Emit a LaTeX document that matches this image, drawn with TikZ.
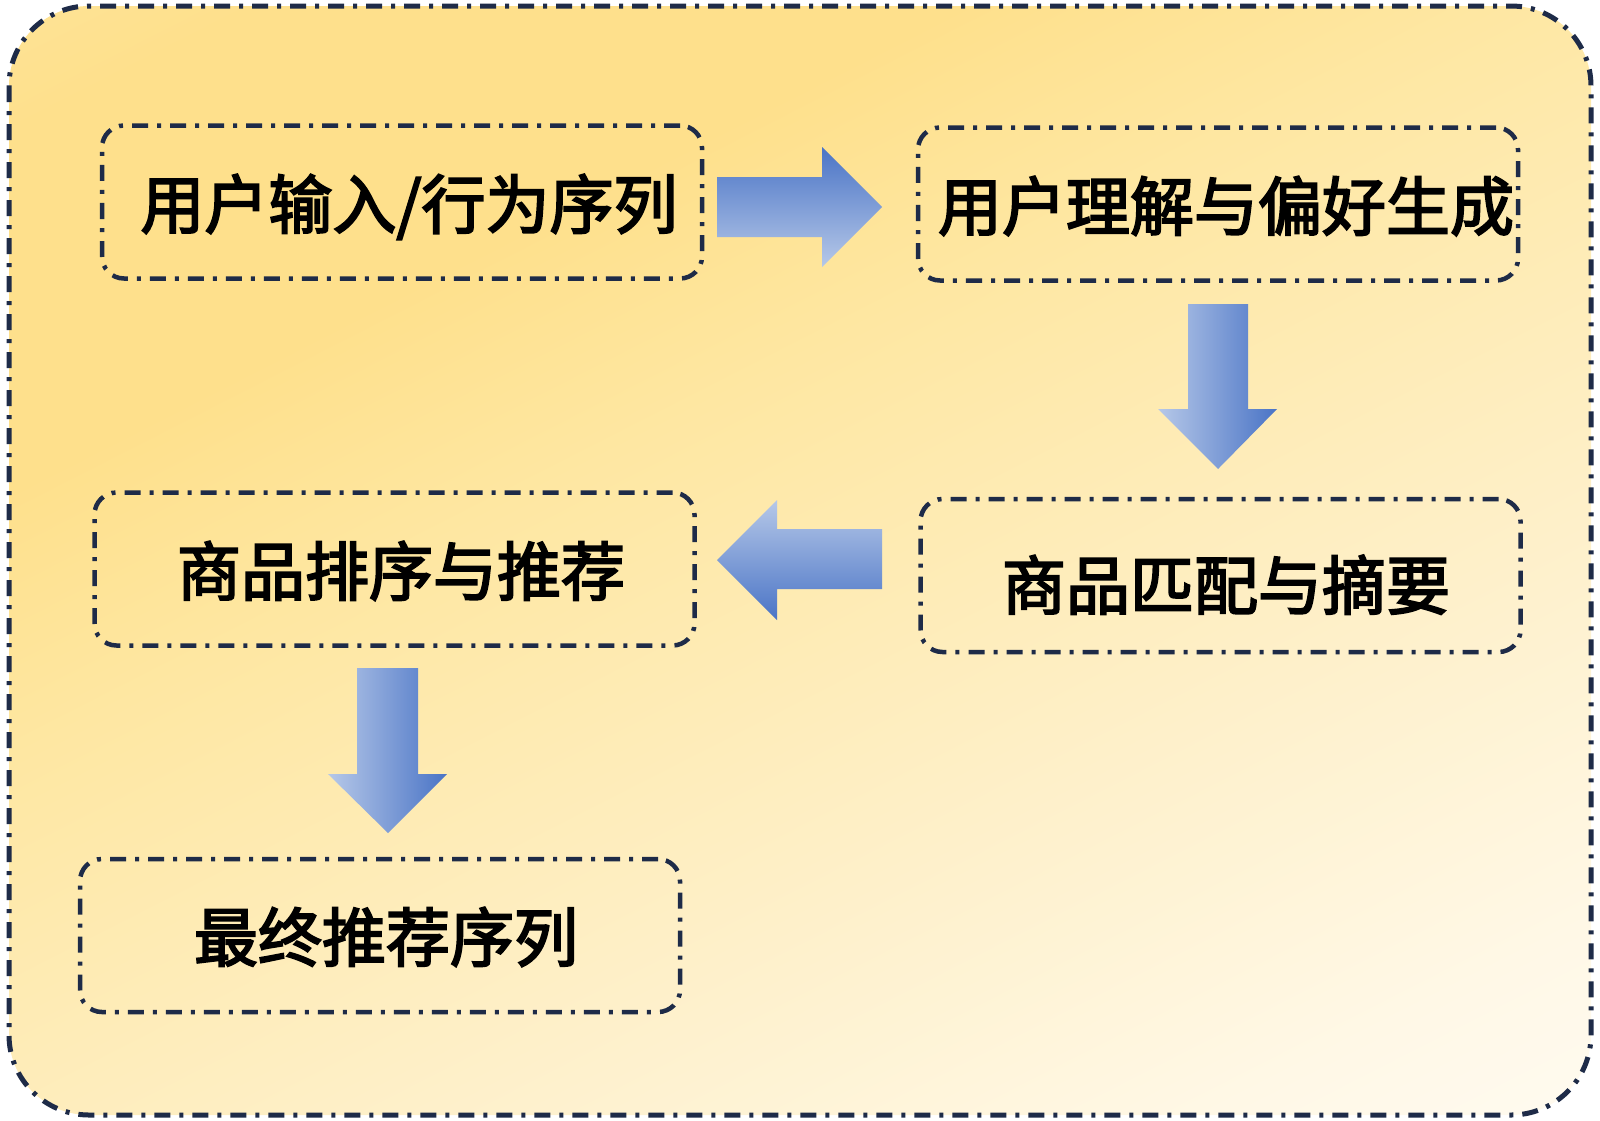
\documentclass[tikz,border=0pt]{standalone}
\usepackage{fontspec}
\setmainfont{Noto Sans CJK SC}
\newfontfamily\boxfont{Noto Sans CJK SC}[FakeBold=3]
\usetikzlibrary{calc}
\definecolor{navy}{HTML}{1E2B48}
\definecolor{arrdark}{HTML}{4A74C6}
\definecolor{arrlight}{HTML}{B6C8E8}
\definecolor{bgA}{HTML}{FFFAEE}
\definecolor{bgB}{HTML}{FFF8E6}
\definecolor{bgG}{HTML}{FEF0CA}
\definecolor{bgC}{HTML}{FEE7A2}
\definecolor{bgD}{HTML}{FEE08C}
\definecolor{bgE}{HTML}{FDE7A6}
\definecolor{bgF}{HTML}{FDE9AC}
\pgfdeclareverticalshading{bgsh}{100bp}{color(0bp)=(bgA); color(29.5bp)=(bgA); color(33bp)=(bgB); color(42bp)=(bgG); color(54.5bp)=(bgC); color(60.5bp)=(bgD); color(68.5bp)=(bgD); color(76bp)=(bgE); color(79.5bp)=(bgF); color(100bp)=(bgF)}
\tikzset{
  dashdot/.style={dash pattern=on 16pt off 9pt on 4pt off 9pt},
  stepbox/.style={draw=navy, line width=4.5pt, dashdot, rounded corners=22pt,
    minimum width=600pt, minimum height=153pt, inner sep=0pt},
  boxtext/.style={inner sep=0pt, font=\boxfont\fontsize{64}{70}\selectfont,
    text height=53pt, text depth=4.5pt, text=black},
}
\begin{document}
\begin{tikzpicture}[x=1pt,y=-1pt]
\useasboundingbox (0,0) rectangle (1600,1120);
% background
\begin{scope}
  \clip[rounded corners=80pt] (9,6) rectangle (1591,1115);
  \shade[transform canvas={rotate around={27:(800,560)}}, shading=bgsh]
    (-200,-440) rectangle (1800,1560);
\end{scope}
\draw[navy, line width=5pt, dashdot, rounded corners=80pt] (9,6) rectangle (1591,1115);
% boxes
\node[stepbox] (b1) at (402,202) {};
\node[stepbox] (b2) at (1218,204) {};
\node[stepbox] (b3) at (394.5,569) {};
\node[stepbox] (b4) at (1220.5,575.5) {};
\node[stepbox] (b5) at (380,935.5) {};
% texts
\node[boxtext] (t1) at (409,204) {用户输入/行为序列};
\node[boxtext] (t2) at (1226,206) {用户理解与偏好生成};
\node[boxtext] (t3) at (401,571) {商品排序与推荐};
\node[boxtext] (t4) at (1226,585) {商品匹配与摘要};
\node[boxtext] (t5) at (386,937) {最终推荐序列};
% block arrows
\shade[top color=arrdark, bottom color=arrlight]
  (717,177) -- (822,177) -- (822,147) -- (882,207) -- (822,267) -- (822,237) -- (717,237) -- cycle;
\shade[left color=arrlight, right color=arrdark]
  (1188,304) -- (1248,304) -- (1248,409) -- (1277,409) -- (1218,469) -- (1158,409) -- (1188,409) -- cycle;
\shade[top color=arrlight, bottom color=arrdark]
  (882,529) -- (777,529) -- (777,500) -- (717,560) -- (777,620) -- (777,589) -- (882,589) -- cycle;
\shade[left color=arrlight, right color=arrdark]
  (357,668) -- (418,668) -- (418,774) -- (447,774) -- (388,833) -- (328,774) -- (357,774) -- cycle;
\end{tikzpicture}
\end{document}
